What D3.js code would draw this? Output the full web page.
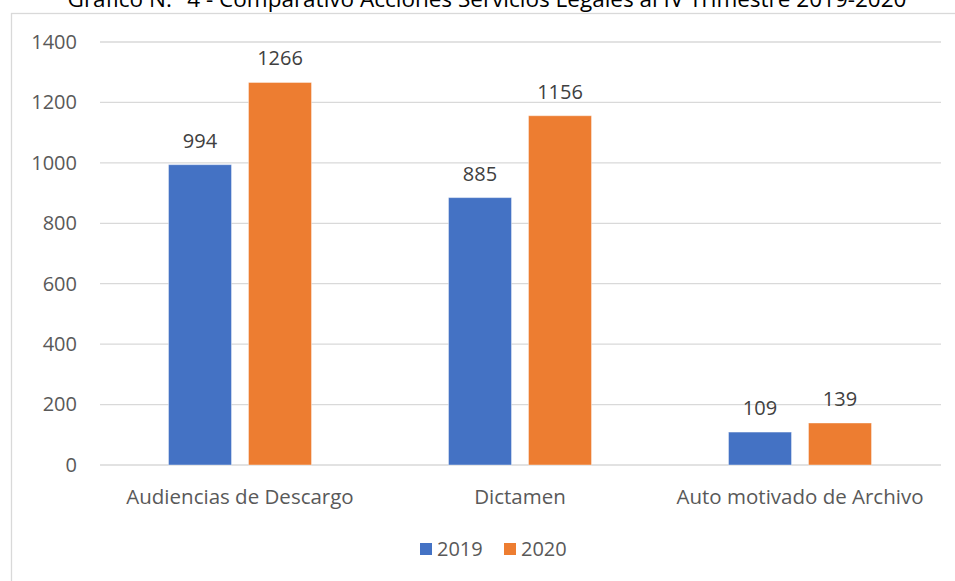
<!DOCTYPE html>
<html>
<head>
<meta charset="utf-8">
<script src="https://cdn.jsdelivr.net/npm/d3@7"></script>
<style>
  body { margin: 0; background: #fff; }
  svg { display: block; font-family: "Open Sans", "Noto Sans", sans-serif; }
</style>
</head>
<body>
<svg width="955" height="581"></svg>
<script>

const categories = ["Audiencias de Descargo", "Dictamen", "Auto motivado de Archivo"];
const seriesNames = ["2019", "2020"];
const values2019 = [994, 885, 109];
const values2020 = [1266, 1156, 139];
const yTicks = [0, 200, 400, 600, 800, 1000, 1200, 1400];
const colors = ["#4472C4", "#ED7D31"];
const titleText = "Gráfico N.° 4 - Comparativo Acciones Servicios Legales al IV Trimestre 2019-2020";

const svg = d3.select("svg"),
  width = +svg.attr("width"),
  height = +svg.attr("height");

// chart frame
svg.append("rect")
  .attr("x", 11.5)
  .attr("y", 13.5)
  .attr("width", 960)
  .attr("height", 600)
  .attr("fill", "none")
  .attr("stroke", "#d9d9d9")
  .attr("stroke-width", 1.3);

svg.append("text")
  .attr("x", 487)
  .attr("y", 7)
  .attr("text-anchor", "middle")
  .style("font-size", "22.5px")
  .style("fill", "#000")
  .text(titleText);

const x = d3.scaleBand().domain(categories).range([100, 940]);
const y = d3.scaleLinear().domain([0, 1400]).range([465, 42]);

// gridlines
svg.append("g")
  .selectAll("line")
  .data(yTicks)
  .enter()
  .append("line")
  .attr("x1", 100)
  .attr("x2", 941)
  .attr("y1", d => y(d))
  .attr("y2", d => y(d))
  .attr("stroke", "#d9d9d9")
  .attr("stroke-width", 1.3);

// y axis labels
const yAxis = svg.append("g")
  .attr("transform", "translate(77,0)")
  .call(d3.axisLeft(y).tickValues(yTicks).tickFormat(d3.format("d")).tickSize(0).tickPadding(0));
yAxis.select(".domain").remove();
yAxis.selectAll("text")
  .style("font-size", "20px")
  .style("font-family", "'Open Sans', sans-serif")
  .attr("fill", "#595959");

// x axis labels
const xAxis = svg.append("g")
  .attr("transform", "translate(0,465)")
  .call(d3.axisBottom(x).tickSize(0).tickPadding(24));
xAxis.select(".domain").remove();
xAxis.selectAll("text")
  .style("font-size", "20.5px")
  .style("font-family", "'Open Sans', sans-serif")
  .attr("fill", "#595959");

const barW = 63, gap = 17;
const inner = d3.scaleBand().domain(seriesNames).range([0, barW * 2 + gap]).paddingInner(gap / (barW + gap));

const series = [values2019, values2020];
const bars = svg.append("g");
seriesNames.forEach((s, i) => {
  const off = (x.bandwidth() - (barW * 2 + gap)) / 2;
  bars.selectAll(".bar" + s)
    .data(categories)
    .enter()
    .append("rect")
    .attr("x", d => x(d) + off + inner(s))
    .attr("y", (d, j) => y(series[i][j]))
    .attr("width", inner.bandwidth())
    .attr("height", (d, j) => y(0) - y(series[i][j]))
    .attr("fill", colors[i])
    .attr("stroke", "#fff")
    .attr("stroke-opacity", 0.4)
    .attr("stroke-width", 1);

  bars.selectAll(".lab" + s)
    .data(categories)
    .enter()
    .append("text")
    .attr("x", d => x(d) + off + inner(s) + inner.bandwidth() / 2)
    .attr("y", (d, j) => y(series[i][j]) - 17)
    .attr("text-anchor", "middle")
    .style("font-size", "20px")
    .attr("fill", "#404040")
    .text((d, j) => series[i][j]);
});

// legend
const legend = svg.append("g").attr("transform", "translate(420,543)");
const legX = [0, 84];
seriesNames.forEach((s, i) => {
  legend.append("rect")
    .attr("x", legX[i])
    .attr("y", 0)
    .attr("width", 12)
    .attr("height", 12)
    .attr("fill", colors[i]);
  legend.append("text")
    .attr("x", legX[i] + 17)
    .attr("y", 13)
    .style("font-size", "20px")
    .attr("fill", "#595959")
    .text(s);
});

</script>
</body>
</html>
